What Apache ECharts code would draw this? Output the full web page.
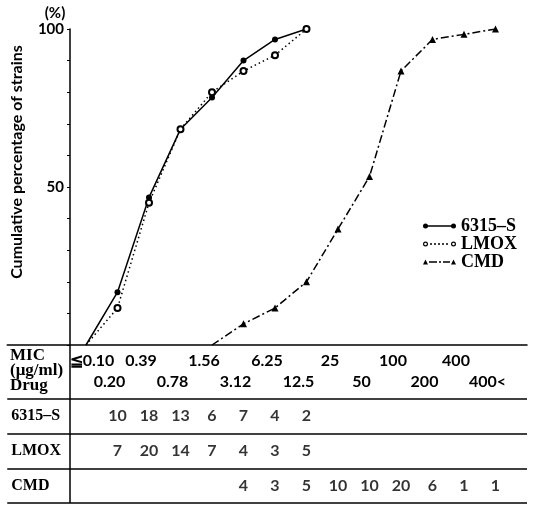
<!DOCTYPE html>
<html><head><meta charset="utf-8">
<script src="https://cdn.jsdelivr.net/npm/echarts@6/dist/echarts.min.js"></script>
<style>html,body{margin:0;padding:0;background:#fff}#c{width:533px;height:505px}</style>
</head><body><div id="c"></div>
<script>
// ---- data ----
const micLabels = ['≦0.10','0.20','0.39','0.78','1.56','3.12','6.25','12.5','25','50','100','200','400','400<'];
const drugs = ['6315–S','LMOX','CMD'];
const pct6315 = [0,16.7,46.7,68.3,78.3,90,96.7,100,null,null,null,null,null,null];
const pctLMOX = [0,11.7,45,68.3,80,86.7,91.7,100,null,null,null,null,null,null];
const pctCMD  = [null,null,null,null,0,6.7,11.7,20,36.7,53.3,86.7,96.7,98.3,100];
const cnt6315 = [null,10,18,13,6,7,4,2,null,null,null,null,null,null];
const cntLMOX = [null,7,20,14,7,4,3,5,null,null,null,null,null,null];
const cntCMD  = [null,null,null,null,null,4,3,5,10,10,20,6,1,1];
const yTickLabels = [50,100];

// ---- helpers ----
function toPts(arr){const o=[];arr.forEach((v,i)=>{if(v!==null)o.push(v===0?{value:[i,v],symbol:'none'}:[i,v]);});return o;}
function toCells(arr,row){const o=[];arr.forEach((v,i)=>{if(v!==null)o.push([i,row,v]);});return o;}
function xLab(v,parity){
  if(!Number.isInteger(v)||v<0||v>=micLabels.length||v%2!==parity)return '';
  return (v===0?'{f|':'{s|')+micLabels[v]+'}';
}
const SERIF='Liberation Serif', SANS='Lato', K='#000';
const GL=7.25, GW=519.75, AX=-62.75;
const numFont={fontFamily:SANS,fontWeight:'bold',fontSize:16,color:K};
const P1='path://M0,2.5A2.5,2.5,0,1,1,5,2.5A2.5,2.5,0,1,1,0,2.5ZM28,2.5A2.5,2.5,0,1,1,33,2.5A2.5,2.5,0,1,1,28,2.5ZM4,1.8L29,1.8L29,3.2L4,3.2Z';
const P2='path://M0,2.5A2.5,2.5,0,1,1,5,2.5A2.5,2.5,0,1,1,0,2.5ZM1.2,2.5A1.3,1.3,0,1,0,3.8,2.5A1.3,1.3,0,1,0,1.2,2.5ZM28,2.5A2.5,2.5,0,1,1,33,2.5A2.5,2.5,0,1,1,28,2.5ZM29.2,2.5A1.3,1.3,0,1,0,31.8,2.5A1.3,1.3,0,1,0,29.2,2.5ZM7,1.8h2v1.4h-2ZM11,1.8h2v1.4h-2ZM15,1.8h2v1.4h-2ZM19,1.8h2v1.4h-2ZM23,1.8h2v1.4h-2Z';
const P3='path://M0,5L2.5,0L5,5ZM28,5L30.5,0L33,5ZM6,1.8h8v1.4h-8ZM16,1.8h2v1.4h-2ZM20,1.8h7v1.4h-7Z';

const xLabelBase=Object.assign({},numFont,{lineHeight:16,rich:{s:{padding:[0,16,0,0]},f:{padding:[0,0,0,12]}}});

const chart=echarts.init(document.getElementById('c'),null,{renderer:'canvas'});
chart.setOption({
  animation:false,
  backgroundColor:'#fff',
  grid:[{left:GL,top:29,width:GW,height:316},{left:GL,top:399,width:GW,height:104}],
  xAxis:[
    {gridIndex:0,type:'value',min:-2.5,max:14,interval:0.5,
     axisLine:{onZero:false,lineStyle:{color:K,width:1.5}},axisTick:{show:false},splitLine:{show:false},
     axisLabel:Object.assign({margin:8,formatter:v=>xLab(v,0)},xLabelBase)},
    {gridIndex:0,type:'value',min:-2.5,max:14,interval:0.5,position:'bottom',offset:21,
     axisLine:{show:false},axisTick:{show:false},splitLine:{show:false},
     axisLabel:Object.assign({margin:8,formatter:v=>xLab(v,1)},xLabelBase)},
    {gridIndex:1,type:'value',min:-2.5,max:14,show:false}
  ],
  yAxis:[
    {gridIndex:0,type:'value',position:'left',min:0,max:100,interval:10,offset:AX,
     axisLine:{show:true,onZero:false,lineStyle:{color:K,width:1.5}},
     axisTick:{show:true,length:3,lineStyle:{color:K,width:1}},splitLine:{show:false},
     axisLabel:{margin:6,fontFamily:SANS,fontWeight:'bold',fontSize:15,color:K,
       formatter:v=>yTickLabels.indexOf(v)>=0?String(v):''},
     name:'(%)',nameLocation:'end',nameGap:8,
     nameTextStyle:{fontFamily:SANS,fontWeight:'bold',fontSize:15,color:K,padding:[0,30,0,0]}},
    {gridIndex:0,type:'value',position:'left',min:0,max:100,offset:AX,
     axisLine:{show:false},axisTick:{show:false},axisLabel:{show:false},splitLine:{show:false},
     name:'Cumulative percentage of strains',nameLocation:'middle',nameRotate:90,nameGap:45,
     nameTextStyle:{fontFamily:SANS,fontWeight:'bold',fontSize:16,color:K,padding:[0,0,0,50]}},
    {gridIndex:1,type:'category',data:drugs,inverse:true,
     axisLine:{show:false},axisTick:{show:false},
     axisLabel:{inside:true,margin:4,fontFamily:SERIF,fontWeight:'bold',fontSize:16,color:K},
     splitLine:{show:true,lineStyle:{color:K,width:1.5}}}
  ],
  legend:{orient:'vertical',left:418,top:212,itemWidth:33,itemHeight:5,itemGap:0,
    itemStyle:{color:K,borderWidth:0},
    textStyle:{fontFamily:SERIF,fontWeight:'bold',fontSize:18,color:K,lineHeight:15},
    data:[{name:drugs[0],icon:P1},{name:drugs[1],icon:P2},{name:drugs[2],icon:P3}]},
  graphic:[
    {type:'line',shape:{x1:70,y1:345,x2:70,y2:503},style:{stroke:K,lineWidth:1.5},z:10},
    {type:'text',left:10,top:347,style:{text:'MIC\n(μg/ml)\nDrug',font:'bold 17px "Liberation Serif"',lineHeight:15,fill:K}}
  ],
  series:[
    {name:drugs[0],type:'line',xAxisIndex:0,yAxisIndex:0,data:toPts(pct6315),
     symbol:'circle',symbolSize:6,itemStyle:{color:K},lineStyle:{color:K,width:1.5,type:'solid'}},
    {name:drugs[1],type:'line',xAxisIndex:0,yAxisIndex:0,data:toPts(pctLMOX),
     symbol:'emptyCircle',symbolSize:6,itemStyle:{color:K,borderWidth:1.5},lineStyle:{color:K,width:1.5,type:[1.5,3]}},
    {name:drugs[2],type:'line',xAxisIndex:0,yAxisIndex:0,data:toPts(pctCMD),
     symbol:'triangle',symbolSize:7,itemStyle:{color:K},lineStyle:{color:K,width:1.5,type:[8,3,2,3]}},
    {type:'scatter',xAxisIndex:2,yAxisIndex:2,symbolSize:1,itemStyle:{color:'rgba(0,0,0,0)'},
     data:toCells(cnt6315,drugs[0]).concat(toCells(cntLMOX,drugs[1]),toCells(cntCMD,drugs[2])),
     label:Object.assign({show:true,position:'inside',formatter:p=>p.value[2]},numFont)}
  ]
});
</script></body></html>
